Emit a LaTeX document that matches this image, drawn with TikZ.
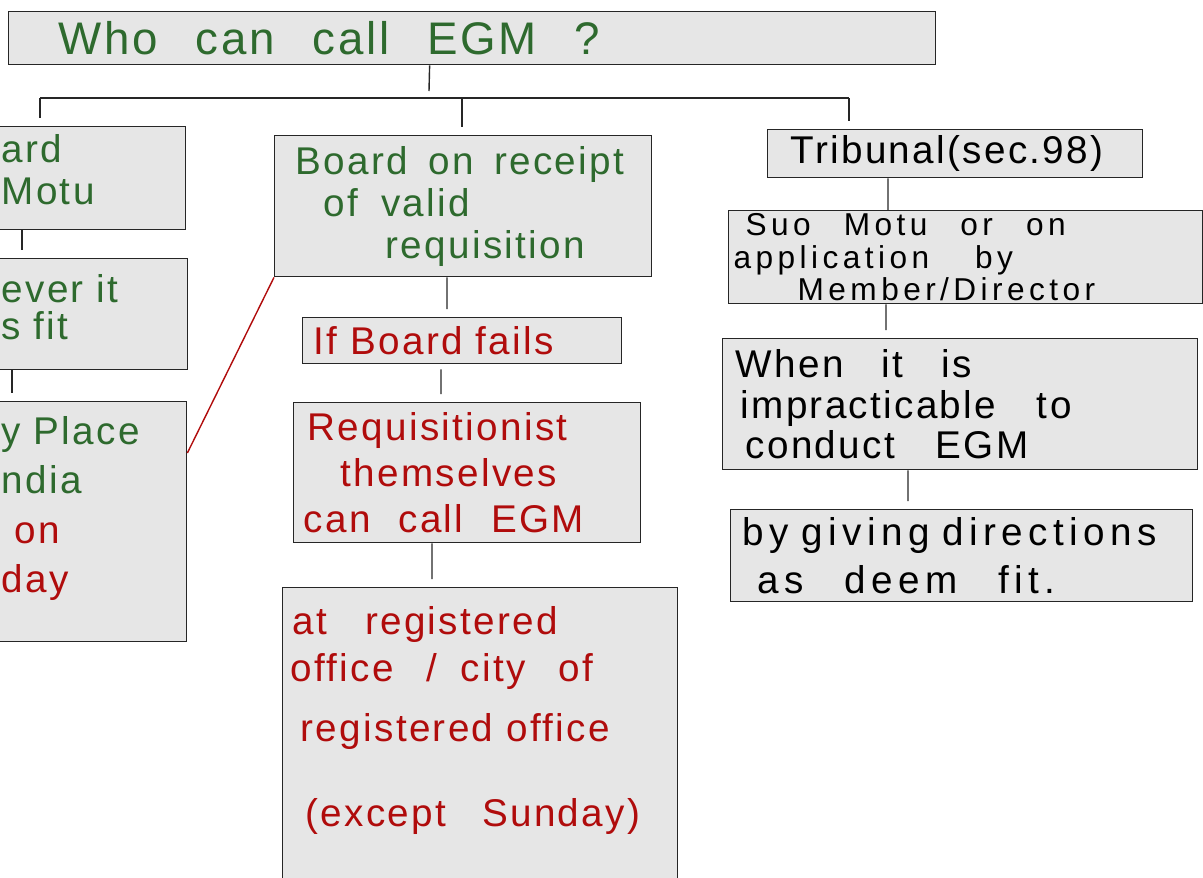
\documentclass[tikz,border=0pt]{standalone}
\usepackage{fontspec}
\newfontfamily\handfont[LetterSpace=6]{Liberation Sans}
\newfontfamily\handwide[LetterSpace=14]{Liberation Sans}
\definecolor{penGreen}{HTML}{2E6A2E}
\definecolor{penRed}{HTML}{B00C0C}
\definecolor{boxGrey}{HTML}{E6E6E6}
\newcommand{\wgap}[1][0.45cm]{\hspace{#1}}
\tikzset{
  box/.style={draw=black!85, fill=boxGrey, line width=0.8pt, anchor=north west, align=left, inner ysep=0pt, font=\handfont\fontsize{22}{24}\selectfont},
  kgreen/.style={box, text=penGreen}, kred/.style={box, text=penRed}, kblack/.style={box, text=black},
  link/.style={draw=black!85, line width=0.8pt},
  gap/.style={link, shorten >=0.16cm},
}

\begin{document}
\begin{tikzpicture}[x=0.02cm, y=-0.02cm]
  \useasboundingbox (0,0) rectangle (1203,877);
  \clip (0,0) rectangle (1203,877);
  % question
  \node[kgreen, minimum width=18.54cm, minimum height=1.06cm, inner xsep=1.0cm, text width=16.54cm, font=\handfont\fontsize{26}{28}\selectfont] (title) at (8,11) {Who \wgap can \wgap call \wgap EGM \wgap ?};
  % left branch (cut by the page edge)
  \node[kgreen, minimum width=4.30cm, minimum height=2.06cm, inner xsep=0.62cm, text width=3.06cm] (board) at (-30,126) {ard\\ Motu\\[-0.5cm]\mbox{}};
  \node[kgreen, minimum width=4.34cm, minimum height=2.22cm, inner xsep=0.62cm, text width=3.10cm, font=\handfont\fontsize{22}{21}\selectfont] (whenever) at (-30,258) {ever it\\ s fit\\[-0.45cm]\mbox{}};
  \node[kgreen, minimum width=4.32cm, minimum height=4.80cm, inner xsep=0.62cm, text width=3.08cm, font=\handfont\fontsize{22}{28}\selectfont] (place) at (-30,401) {y Place\\ ndia\\ \hspace*{0.26cm}\textcolor{penRed}{on}\\ \textcolor{penRed}{day}\\[-0.3cm]\mbox{}};
  % middle branch
  \node[kgreen, minimum width=7.54cm, minimum height=2.82cm, inner xsep=0.30cm, text width=6.94cm] (receipt) at (274,135) {\hspace*{0.12cm}Board\wgap[0.15cm] on\wgap[0.15cm] receipt\\ \hspace*{0.68cm}of\wgap[0.2cm] valid\\ \hspace*{1.92cm}requisition};
  \node[kred, minimum width=6.38cm, minimum height=0.92cm, inner xsep=0.22cm, text width=5.94cm] (fails) at (302,317) {If Board fails};
  \node[kred, minimum width=6.94cm, minimum height=2.80cm, inner xsep=0.20cm, text width=6.54cm, font=\handfont\fontsize{22}{26}\selectfont] (requis) at (293,402) {\hspace*{0.08cm}Requisitionist\\ \hspace*{0.74cm}themselves\\ can\wgap[0.3cm] call\wgap[0.3cm] EGM};
  \node[kred, minimum width=7.90cm, minimum height=6.00cm, inner xsep=0.16cm, text width=7.58cm] (venue) at (282,587) {\hspace*{0.04cm}at\wgap[0.5cm] registered\\[0.1cm] office\wgap[0.4cm] /\wgap[0.2cm] city\wgap[0.4cm] of\\[0.36cm] \hspace*{0.2cm}registered office\\[0.86cm] \hspace*{0.3cm}(except \wgap[0.2cm] Sunday)\\ \mbox{}};
  % right branch
  \node[kblack, minimum width=7.50cm, minimum height=0.96cm, inner xsep=0.46cm, text width=6.58cm] (tribunal) at (767,129) {Tribunal(sec.98)};
  \node[kblack, minimum width=9.48cm, minimum height=1.86cm, inner xsep=0.10cm, text width=9.28cm, font=\handwide\fontsize{18}{18.5}\selectfont] (suomotu) at (728,210) {\hspace*{0.24cm}Suo \wgap Motu \wgap or \wgap on\\ application \wgap[0.5cm] by\\ \hspace*{1.28cm}Member/Director};
  \node[kblack, minimum width=9.50cm, minimum height=2.62cm, inner xsep=0.26cm, text width=8.98cm, font=\handfont\fontsize{22}{23}\selectfont] (impract) at (722,338) {When \wgap[0.25cm] it \wgap[0.25cm] is\\ \hspace*{0.1cm}impracticable \wgap[0.3cm] to\\ \hspace*{0.2cm}conduct \wgap[0.3cm] EGM};
  \node[kblack, minimum width=9.24cm, minimum height=1.84cm, inner xsep=0.24cm, text width=8.76cm, font=\handwide\fontsize{22}{27}\selectfont] (directions) at (730,509) {by giving directions\\ \hspace*{0.3cm}as \wgap[0.3cm] deem \wgap[0.3cm] fit.};

  \coordinate (hub) at (429,91);
  \coordinate (busL) at (40,98);
  \coordinate (busM) at (462,98);
  \coordinate (busR) at (849,98);
  \draw[link] ([xshift=-0.85cm]title.south) -- (hub);
  \draw[link] (busL) -- (busR);
  \draw[gap] (busL) -- (busL |- board.north);
  \draw[gap] (busM) -- (busM |- receipt.north);
  \draw[gap] (busR) -- (busR |- tribunal.north);

  \draw[gap] ([xshift=1.04cm]board.south west) -- ([xshift=1.04cm]whenever.north west);
  \draw[gap] ([xshift=0.84cm]whenever.south west) -- ([xshift=0.84cm]place.north west);
  \draw[penRed, line width=0.8pt] ([yshift=-1.04cm]place.north east) -- (receipt.south west);

  \draw[gap] ([xshift=3.46cm]receipt.south west) -- ([xshift=2.90cm]fails.north west);
  \draw[gap, shorten <=0.1cm] ([xshift=2.78cm]fails.south west) -- ([xshift=2.96cm]requis.north west);
  \draw[gap] ([xshift=2.78cm]requis.south west) -- ([xshift=3.00cm]venue.north west);

  \draw[link] ([xshift=2.42cm]tribunal.south west) -- ([xshift=3.20cm]suomotu.north west);
  \draw[gap] ([xshift=3.16cm]suomotu.south west) -- ([xshift=3.28cm]impract.north west);
  \draw[gap] ([xshift=3.72cm]impract.south west) -- ([xshift=3.56cm]directions.north west);
\end{tikzpicture}
\end{document}
